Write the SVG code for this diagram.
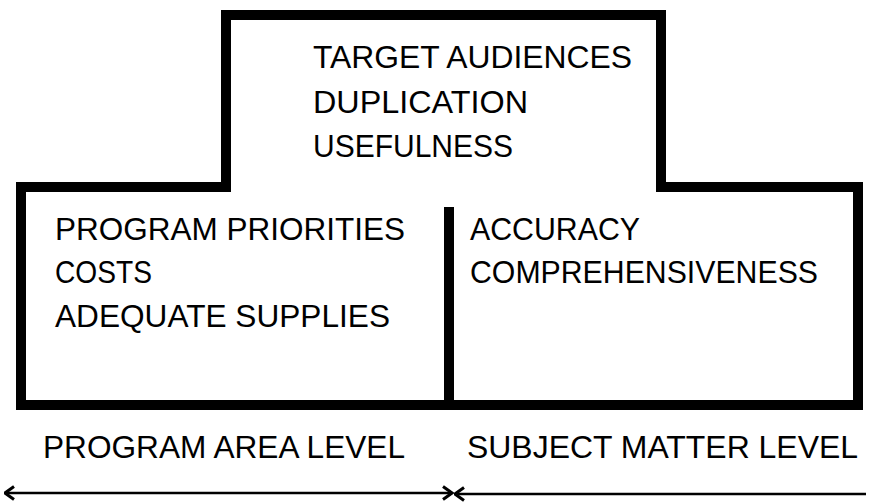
<svg xmlns="http://www.w3.org/2000/svg" width="875" height="504" viewBox="0 0 875 504">
  <style>
    .bg { fill: #ffffff; }
    .frame { fill: none; stroke: #000; stroke-width: 10; stroke-linejoin: miter; stroke-linecap: square; }
    .t { font-family: "Liberation Sans", "DejaVu Sans", Arial, sans-serif; font-size: 31px; fill: #000; }
    .conn { fill: none; stroke: #000; stroke-width: 2.5; }
  </style>
  <defs>
    <marker id="chev" viewBox="0 0 12 16" markerUnits="userSpaceOnUse" markerWidth="12" markerHeight="16" refX="10.5" refY="8" orient="auto-start-reverse">
      <path d="M1.5,1.5 L10.5,8 L1.5,14.5" fill="none" stroke="#000" stroke-width="3" stroke-linejoin="miter"/>
    </marker>
  </defs>
  <rect class="bg" x="0" y="0" width="875" height="504"/>

  <g id="frame">
    <path class="frame" d="M226 15 H661 V187 H858 V405 H21 V187 H226 Z"/>
    <line class="frame" x1="449" y1="212" x2="449" y2="405" stroke-linecap="butt"/>
  </g>

  <g id="node-top">
    <text class="t" x="313" y="68" textLength="319" lengthAdjust="spacingAndGlyphs">TARGET AUDIENCES</text>
    <text class="t" x="313" y="113" textLength="215" lengthAdjust="spacingAndGlyphs">DUPLICATION</text>
    <text class="t" x="313" y="157" textLength="200" lengthAdjust="spacingAndGlyphs">USEFULNESS</text>
  </g>

  <g id="node-program">
    <text class="t" x="55" y="240" textLength="350" lengthAdjust="spacingAndGlyphs">PROGRAM PRIORITIES</text>
    <text class="t" x="55" y="283" textLength="97" lengthAdjust="spacingAndGlyphs">COSTS</text>
    <text class="t" x="55" y="327" textLength="335" lengthAdjust="spacingAndGlyphs">ADEQUATE SUPPLIES</text>
  </g>

  <g id="node-subject">
    <text class="t" x="470" y="240" textLength="170" lengthAdjust="spacingAndGlyphs">ACCURACY</text>
    <text class="t" x="470" y="283" textLength="348" lengthAdjust="spacingAndGlyphs">COMPREHENSIVENESS</text>
  </g>

  <g id="label-program">
    <text class="t" x="43" y="458" textLength="362" lengthAdjust="spacingAndGlyphs">PROGRAM AREA LEVEL</text>
  </g>
  <g id="label-subject">
    <text class="t" x="467" y="458" textLength="391" lengthAdjust="spacingAndGlyphs">SUBJECT MATTER LEVEL</text>
  </g>

  <g id="connectors">
    <line class="conn" x1="5" y1="493" x2="452" y2="493" marker-start="url(#chev)" marker-end="url(#chev)"/>
    <line class="conn" x1="455" y1="494" x2="866" y2="494" marker-start="url(#chev)"/>
  </g>
</svg>
